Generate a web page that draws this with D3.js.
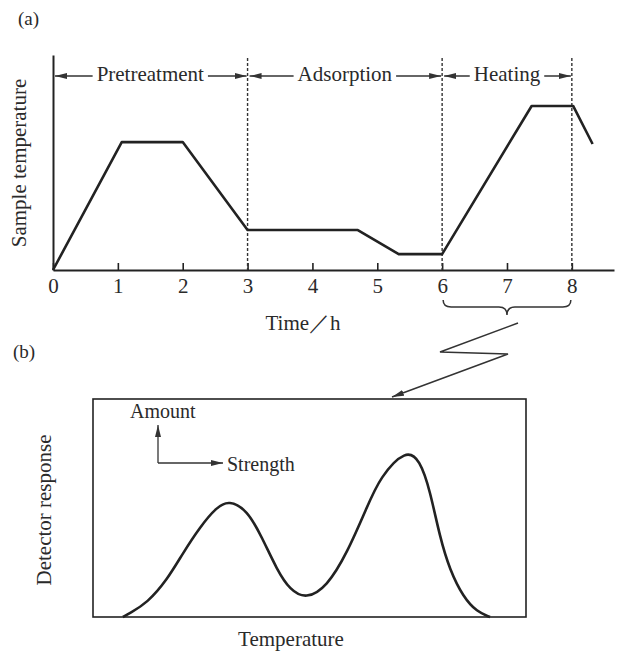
<!DOCTYPE html>
<html>
<head>
<meta charset="utf-8">
<script src="https://cdn.jsdelivr.net/npm/d3@7"></script>
<style>
  body { margin: 0; background: #fff; }
  text { font-family: 'Liberation Serif', serif; fill: #2a2a2a; }
</style>
</head>
<body>
<script>
// (a) temperature programme
const HOURS = [0, 1, 2, 3, 4, 5, 6, 7, 8];
const TEMP_TIME = [0, 1.06, 2.0, 3.0, 4.7, 5.33, 6.0, 7.38, 8.02, 8.32];
const TEMP_VALUE = [0, 59.5, 59.5, 18.6, 18.6, 7.4, 7.4, 76.3, 76.3, 58.6];
const PHASE_BOUNDS = [0, 3, 6, 8];
const PHASE_LABELS = ['Pretreatment', 'Adsorption', 'Heating'];

// (b) desorption profile
const PROFILE_T = [6.9, 8.5, 12.5, 17.1, 20.8, 24.7, 28.6, 31.4, 35.6, 39.0, 42.5, 45.5, 49.2, 54.0, 58.7, 63.3, 66.3, 72.3, 75.5, 77.8, 80.1, 82.4, 85.5, 88.7, 91.7];
const PROFILE_R = [0, 1.8, 6.4, 17.0, 29.4, 41.3, 50.5, 53.5, 49.1, 36.7, 21.6, 12.4, 8.2, 13.8, 29.4, 50.5, 64.2, 77.0, 72.0, 58.3, 36.7, 21.6, 9.2, 2.3, 0];

const SVG_DIM = {W: 619, H: 652};
const A = {LEFT: 53, RIGHT: 614, TOP: 55, BOTTOM: 270};
const B = {LEFT: 93, RIGHT: 526, TOP: 399, BOTTOM: 617};
const INK = '#222';
const FS = 21;

const svg = d3.select('body').append('svg')
    .attr('width', SVG_DIM.W)
    .attr('height', SVG_DIM.H);

const defs = svg.append('defs');
defs.append('marker')
    .attr('id', 'head')
    .attr('viewBox', '0 0 12 6')
    .attr('refX', 12).attr('refY', 3)
    .attr('markerWidth', 12).attr('markerHeight', 6)
    .attr('markerUnits', 'userSpaceOnUse')
    .attr('orient', 'auto-start-reverse')
    .append('path').attr('d', 'M0,0L12,3L0,6Z').attr('fill', '#333');

// ---------- panel (a)
const x = d3.scaleLinear().domain([0, 8.65]).range([A.LEFT, A.RIGHT]);
const y = d3.scaleLinear().domain([0, 100]).range([A.BOTTOM, A.TOP]);

svg.append('text').attr('x', 18).attr('y', 25).attr('font-size', 19).text('(a)');

const xAxis = svg.append('g')
    .attr('transform', 'translate(0,' + A.BOTTOM + ')')
    .call(d3.axisBottom(x).tickValues(HOURS).tickSize(-7).tickSizeOuter(0).tickPadding(8));
xAxis.select('.domain').attr('stroke', INK).attr('stroke-width', 2);
xAxis.selectAll('.tick line').attr('stroke', INK).attr('stroke-width', 1.6);
xAxis.selectAll('.tick text').attr('font-size', 21).attr('font-family', "'Liberation Serif', serif").attr('fill', '#2a2a2a');

const yAxis = svg.append('g')
    .attr('transform', 'translate(' + A.LEFT + ',0)')
    .call(d3.axisLeft(y).tickValues([]).tickSizeOuter(0));
yAxis.select('.domain').attr('stroke', INK).attr('stroke-width', 2);

svg.append('text')
    .attr('transform', 'translate(26,' + 163 + ') rotate(-90)')
    .attr('text-anchor', 'middle')
    .attr('font-size', FS)
    .text('Sample temperature');

svg.append('text')
    .attr('x', 303).attr('y', 330)
    .attr('text-anchor', 'middle')
    .attr('font-size', FS)
    .text('Time／h');

// dashed phase boundaries
svg.selectAll('.bound')
    .data(PHASE_BOUNDS.slice(1))
    .enter().append('line')
    .attr('class', 'bound')
    .attr('x1', d => x(d)).attr('x2', d => x(d))
    .attr('y1', 58).attr('y2', A.BOTTOM)
    .attr('stroke', '#333').attr('stroke-width', 1.4)
    .attr('stroke-dasharray', '3,2');

// phase labels with arrows
const ARROW_Y = 76;
PHASE_LABELS.forEach((label, i) => {
    const x0 = x(PHASE_BOUNDS[i]);
    const x1 = x(PHASE_BOUNDS[i + 1]);
    const t = svg.append('text')
        .attr('x', (x0 + x1) / 2).attr('y', 81)
        .attr('text-anchor', 'middle')
        .attr('font-size', FS)
        .text(label);
    const w = t.node().getComputedTextLength();
    const mid = (x0 + x1) / 2;
    svg.append('line')
        .attr('x1', mid - w / 2 - 4).attr('x2', x0 + 2)
        .attr('y1', ARROW_Y).attr('y2', ARROW_Y)
        .attr('stroke', '#333').attr('stroke-width', 1.5)
        .attr('marker-end', 'url(#head)');
    svg.append('line')
        .attr('x1', mid + w / 2 + 4).attr('x2', x1 - 1)
        .attr('y1', ARROW_Y).attr('y2', ARROW_Y)
        .attr('stroke', '#333').attr('stroke-width', 1.5)
        .attr('marker-end', 'url(#head)');
});

// temperature curve
svg.append('path')
    .datum(TEMP_TIME.map((t, i) => [t, TEMP_VALUE[i]]))
    .attr('fill', 'none')
    .attr('stroke', INK)
    .attr('stroke-width', 2.6)
    .attr('stroke-linejoin', 'round')
    .attr('d', d3.line().x(d => x(d[0])).y(d => y(d[1])));

// brace under heating span
const bs = x(6) + 1, be = x(8) - 1, bm = (bs + be) / 2;
svg.append('path')
    .attr('d', `M${bs},300 Q${bs},307 ${bs + 8},307 L${bm - 8},307 Q${bm},307 ${bm},315 Q${bm},307 ${bm + 8},307 L${be - 8},307 Q${be},307 ${be},300`)
    .attr('fill', 'none').attr('stroke', '#333').attr('stroke-width', 1.5);

// zigzag pointer to panel (b)
svg.append('path')
    .attr('d', 'M518,323 L440,352 L508,354 L392,397')
    .attr('fill', 'none').attr('stroke', '#333').attr('stroke-width', 1.5)
    .attr('marker-end', 'url(#head)');

// ---------- panel (b)
svg.append('text').attr('x', 13).attr('y', 358).attr('font-size', 19).text('(b)');

const tx = d3.scaleLinear().domain([0, 100]).range([B.LEFT, B.RIGHT]);
const ry = d3.scaleLinear().domain([0, 100]).range([B.BOTTOM, B.TOP]);

svg.append('rect')
    .attr('x', B.LEFT).attr('y', B.TOP)
    .attr('width', B.RIGHT - B.LEFT).attr('height', B.BOTTOM - B.TOP)
    .attr('fill', 'none').attr('stroke', INK).attr('stroke-width', 1.6);

svg.append('path')
    .datum(PROFILE_T.map((t, i) => [t, PROFILE_R[i]]))
    .attr('fill', 'none')
    .attr('stroke', INK)
    .attr('stroke-width', 2.6)
    .attr('d', d3.line().curve(d3.curveBasis).x(d => tx(d[0])).y(d => ry(d[1])));

svg.append('text')
    .attr('transform', 'translate(51,510) rotate(-90)')
    .attr('text-anchor', 'middle')
    .attr('font-size', FS)
    .text('Detector response');

svg.append('text')
    .attr('x', 291).attr('y', 646)
    .attr('text-anchor', 'middle')
    .attr('font-size', FS)
    .text('Temperature');

// amount / strength key
const keyX = 158, keyY = 463;
svg.append('line')
    .attr('x1', keyX).attr('y1', keyY).attr('x2', keyX).attr('y2', 425)
    .attr('stroke', '#333').attr('stroke-width', 1.3)
    .attr('marker-end', 'url(#head)');
svg.append('line')
    .attr('x1', keyX).attr('y1', keyY).attr('x2', 223).attr('y2', keyY)
    .attr('stroke', '#333').attr('stroke-width', 1.3)
    .attr('marker-end', 'url(#head)');
svg.append('text').attr('x', 130).attr('y', 418).attr('font-size', 20).text('Amount');
svg.append('text').attr('x', 227).attr('y', 471).attr('font-size', 20).text('Strength');
</script>
</body>
</html>
